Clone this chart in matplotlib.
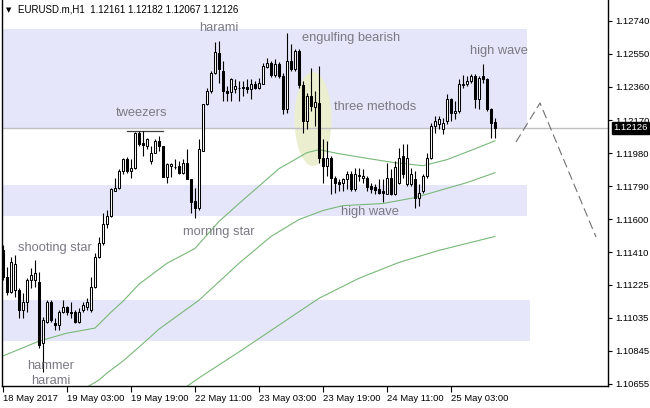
import matplotlib.pyplot as plt
from matplotlib.patches import Ellipse, Rectangle

plt.rcParams['font.family'] = ['Liberation Sans', 'DejaVu Sans']

symbol = 'EURUSD.m,H1'

# hourly OHLC, 18 May 2017 11:00 .. 25 May 2017 14:00
opens = [1.11422, 1.11268, 1.11182, 1.11193, 1.11193, 1.11079, 1.11125, 1.11250, 1.11250, 1.11239,
         1.10890, 1.11010, 1.11125, 1.11004, 1.10993, 1.11067, 1.11096, 1.11067, 1.11067, 1.11010,
         1.11079, 1.11096, 1.11079, 1.11210, 1.11382, 1.11462, 1.11576, 1.11622, 1.11765, 1.11782,
         1.11880, 1.11948, 1.11880, 1.11897, 1.12097, 1.12040, 1.12023, 1.11937, 1.11983, 1.12051,
         1.12023, 1.11845, 1.11908, 1.11902, 1.11908, 1.11868, 1.11925, 1.11834, 1.11708, 1.11668,
         1.11994, 1.12263, 1.12337, 1.12440, 1.12555, 1.12452, 1.12337, 1.12331, 1.12349, 1.12354,
         1.12354, 1.12360, 1.12349, 1.12377, 1.12354, 1.12377, 1.12474, 1.12497, 1.12429, 1.12492,
         1.12423, 1.12234, 1.12509, 1.12463, 1.12566, 1.12372, 1.12166, 1.12309, 1.12246, 1.12269,
         1.11954, 1.11908, 1.11954, 1.11840, 1.11817, 1.11811, 1.11834, 1.11862, 1.11777, 1.11851,
         1.11840, 1.11840, 1.11794, 1.11788, 1.11777, 1.11765, 1.11748, 1.11840, 1.11748, 1.11811,
         1.11965, 1.11805, 1.11805, 1.11834, 1.11725, 1.11765, 1.11851, 1.11954, 1.12137, 1.12148,
         1.12120, 1.12166, 1.12291, 1.12211, 1.12223, 1.12372, 1.12377, 1.12394, 1.12423, 1.12291,
         1.12423, 1.12406, 1.12234, 1.12161]
highs = [1.11451, 1.11325, 1.11382, 1.11393, 1.11205, 1.11176, 1.11262, 1.11319, 1.11365, 1.11296,
         1.11039, 1.11136, 1.11136, 1.11033, 1.11079, 1.11136, 1.11102, 1.11125, 1.11079, 1.11090,
         1.11125, 1.11147, 1.11268, 1.11405, 1.11496, 1.11639, 1.11651, 1.11782, 1.11840, 1.11891,
         1.11954, 1.11960, 1.11948, 1.12103, 1.12108, 1.12108, 1.12068, 1.12023, 1.12063, 1.12080,
         1.12023, 1.11925, 1.11925, 1.11948, 1.11937, 1.11948, 1.12005, 1.11834, 1.11782, 1.12063,
         1.12263, 1.12354, 1.12452, 1.12617, 1.12623, 1.12509, 1.12366, 1.12412, 1.12406, 1.12394,
         1.12394, 1.12406, 1.12406, 1.12394, 1.12412, 1.12497, 1.12526, 1.12509, 1.12520, 1.12503,
         1.12440, 1.12669, 1.12606, 1.12577, 1.12577, 1.12394, 1.12326, 1.12469, 1.12337, 1.12480,
         1.12063, 1.12051, 1.11965, 1.11851, 1.11834, 1.11840, 1.11880, 1.11880, 1.11897, 1.11897,
         1.11891, 1.11851, 1.11811, 1.11805, 1.11834, 1.11834, 1.11925, 1.11891, 1.11937, 1.12011,
         1.12034, 1.12034, 1.11897, 1.11880, 1.11805, 1.11862, 1.11983, 1.12154, 1.12194, 1.12194,
         1.12183, 1.12320, 1.12297, 1.12280, 1.12406, 1.12429, 1.12423, 1.12434, 1.12434, 1.12423,
         1.12492, 1.12412, 1.12240, 1.12182]
lows = [1.11250, 1.11165, 1.11176, 1.11153, 1.11033, 1.11033, 1.11067, 1.11205, 1.11210, 1.10861,
        1.10724, 1.11004, 1.11010, 1.10964, 1.10964, 1.11062, 1.11050, 1.11033, 1.11004, 1.11004,
        1.11067, 1.11079, 1.11067, 1.11205, 1.11376, 1.11451, 1.11548, 1.11611, 1.11765, 1.11777,
        1.11862, 1.11868, 1.11840, 1.11891, 1.12023, 1.11965, 1.12005, 1.11920, 1.11983, 1.11994,
        1.11845, 1.11811, 1.11845, 1.11891, 1.11862, 1.11862, 1.11834, 1.11639, 1.11605, 1.11651,
        1.11994, 1.12257, 1.12326, 1.12434, 1.12383, 1.12280, 1.12280, 1.12280, 1.12326, 1.12280,
        1.12309, 1.12326, 1.12291, 1.12349, 1.12349, 1.12377, 1.12469, 1.12417, 1.12417, 1.12412,
        1.12206, 1.12211, 1.12452, 1.12452, 1.12354, 1.12097, 1.12120, 1.12223, 1.12137, 1.11925,
        1.11811, 1.11851, 1.11748, 1.11754, 1.11765, 1.11765, 1.11777, 1.11765, 1.11765, 1.11822,
        1.11811, 1.11765, 1.11754, 1.11748, 1.11748, 1.11697, 1.11748, 1.11737, 1.11737, 1.11805,
        1.11840, 1.11794, 1.11794, 1.11668, 1.11679, 1.11754, 1.11840, 1.11948, 1.12097, 1.12120,
        1.12091, 1.12148, 1.12166, 1.12177, 1.12211, 1.12354, 1.12366, 1.12383, 1.12240, 1.12234,
        1.12383, 1.12223, 1.12068, 1.12067]
closes = [1.11268, 1.11182, 1.11353, 1.11342, 1.11079, 1.11125, 1.11250, 1.11279, 1.11290, 1.10879,
          1.11022, 1.11125, 1.11022, 1.10993, 1.11067, 1.11096, 1.11067, 1.11062, 1.11010, 1.11067,
          1.11107, 1.11125, 1.11210, 1.11382, 1.11462, 1.11576, 1.11622, 1.11777, 1.11782, 1.11880,
          1.11948, 1.11880, 1.11897, 1.12097, 1.12034, 1.12028, 1.12063, 1.11983, 1.12051, 1.12023,
          1.11845, 1.11920, 1.11920, 1.11900, 1.11868, 1.11925, 1.11834, 1.11697, 1.11668, 1.12005,
          1.12263, 1.12337, 1.12440, 1.12560, 1.12463, 1.12337, 1.12326, 1.12406, 1.12366, 1.12352,
          1.12360, 1.12349, 1.12377, 1.12354, 1.12383, 1.12480, 1.12497, 1.12429, 1.12492, 1.12423,
          1.12234, 1.12509, 1.12463, 1.12566, 1.12372, 1.12166, 1.12309, 1.12251, 1.12274, 1.11954,
          1.11908, 1.11954, 1.11840, 1.11811, 1.11805, 1.11834, 1.11862, 1.11777, 1.11862, 1.11853,
          1.11851, 1.11788, 1.11777, 1.11771, 1.11754, 1.11754, 1.11840, 1.11748, 1.11902, 1.11954,
          1.11862, 1.11954, 1.11862, 1.11725, 1.11754, 1.11851, 1.11954, 1.12137, 1.12166, 1.12177,
          1.12154, 1.12291, 1.12211, 1.12223, 1.12377, 1.12377, 1.12394, 1.12423, 1.12291, 1.12412,
          1.12406, 1.12234, 1.12154, 1.12126]

# moving averages at a few bars (bar index, price)
ma_fast_idx = [0, 9, 16, 23, 27, 30, 34, 41, 48, 54, 59, 69, 76, 79, 84, 90, 98, 105, 111, 118, 123]
ma_fast = [1.10816, 1.10901, 1.10947, 1.10976, 1.11067, 1.11130, 1.11228, 1.11348, 1.11433, 1.11588,
           1.11691, 1.11891, 1.11983, 1.12000, 1.11977, 1.11954, 1.11925, 1.11908, 1.11943, 1.12005,
           1.12051]
ma_mid_idx = [19, 24, 26, 30, 34, 39, 49, 59, 67, 74, 80, 85, 95, 103, 109, 116, 123]
ma_mid = [1.10610, 1.10678, 1.10718, 1.10787, 1.10867, 1.10970, 1.11136, 1.11348, 1.11502, 1.11599,
          1.11651, 1.11679, 1.11691, 1.11725, 1.11765, 1.11811, 1.11868]
ma_slow_idx = [44, 49, 59, 69, 79, 89, 99, 109, 116, 123]
ma_slow = [1.10610, 1.10690, 1.10839, 1.10993, 1.11147, 1.11262, 1.11353, 1.11422, 1.11462, 1.11502]

# support / resistance zones (low, high, last bar)
zone_lo = [1.12120, 1.11619, 1.10902]
zone_hi = [1.12693, 1.11797, 1.11137]
zone_end = [131, 131, 131.75]

price_ticks = [1.12740, 1.12550, 1.12360, 1.12170, 1.11980, 1.11790,
               1.11600, 1.11410, 1.11225, 1.11035, 1.10845, 1.10655]
time_ticks = [0, 16, 32, 48, 64, 80, 96, 112]
time_labels = ['18 May 2017', '19 May 03:00', '19 May 19:00', '22 May 11:00',
               '23 May 03:00', '23 May 19:00', '24 May 11:00', '25 May 03:00']

# pattern labels (text, bar, price)
patterns = [('harami', 54, 1.12698), ('engulfing bearish', 87, 1.12641),
            ('high wave', 124, 1.12566), ('tweezers', 34.75, 1.12211),
            ('three methods', 93, 1.12245), ('high wave', 91.75, 1.11642),
            ('morning star', 54, 1.11527), ('shooting star', 13, 1.11436),
            ('hammer', 12, 1.10758), ('harami', 12, 1.10672)]

# projected path drawn on the right
proj_idx = [128.25, 134.25, 148.25]
proj_price = [1.12044, 1.12268, 1.11499]

fig = plt.figure(figsize=(6.5, 4.08), dpi=100)
ax = fig.add_axes([2 / 650, 22 / 408, 606 / 650, 386 / 408])
ax.set_xlim(-0.25, 151.25)
ax.set_ylim(1.106435, 1.128592)

for lo, hi, end in zip(zone_lo, zone_hi, zone_end):
    ax.add_patch(Rectangle((-5, lo), end + 5, hi - lo, facecolor='#e6e6fa',
                           edgecolor='none', zorder=0))

ax.add_patch(Ellipse((77.5, 1.12176), 9.25, 0.0054, facecolor='#ebefcf',
                     edgecolor='none', zorder=1))

ax.axhline(closes[-1], color='#c0c0c0', lw=1, zorder=1.5)

# tweezers top line
ax.plot([31, 40], [1.12108, 1.12108], color='#404040', lw=0.9, zorder=2)

for xs, ys in [(ma_fast_idx, ma_fast), (ma_mid_idx, ma_mid), (ma_slow_idx, ma_slow)]:
    ax.plot(xs, ys, color='#78b878', lw=0.8, zorder=2)

ax.plot(proj_idx, proj_price, color='#707070', lw=0.8, linestyle=(0, (8, 4)), zorder=2)

# candles
idx = list(range(len(opens)))
ax.vlines(idx, lows, highs, color='black', lw=0.8, zorder=3)
for i in idx:
    o, c = opens[i], closes[i]
    fc = 'white' if c > o else 'black'
    ax.bar(i, abs(c - o), bottom=min(o, c), width=0.5, color=fc,
           edgecolor='black', linewidth=0.75, zorder=4)

for txt, x, y in patterns:
    ax.text(x, y, txt, fontsize=9.3, color='#7a7a84', ha='center', va='center', zorder=5)

# axes styling
ax.spines['top'].set_visible(False)
for s in ['left', 'bottom', 'right']:
    ax.spines[s].set_linewidth(1)
ax.yaxis.tick_right()
ax.set_yticks(price_ticks)
ax.set_yticklabels([f'{p:.5f}' for p in price_ticks])
ax.tick_params(axis='y', direction='out', length=3, width=0.8, pad=2, labelsize=6.8)
ax.set_xticks(time_ticks)
ax.set_xticklabels(time_labels, ha='left')
ax.tick_params(axis='x', direction='out', length=4, width=0.8, pad=2, labelsize=6.8)

ax.annotate(f'{closes[-1]:.5f}', xy=(1, closes[-1]), xycoords=('axes fraction', 'data'),
            xytext=(3.6, 0), textcoords='offset points', ha='left', va='center',
            fontsize=6.8, color='white', zorder=6,
            bbox=dict(boxstyle='square,pad=0.15', fc='black', ec='black'), annotation_clip=False)

title = f'{symbol}  {opens[-1]:.5f} {highs[-1]:.5f} {lows[-1]:.5f} {closes[-1]:.5f}'
ax.text(4 / 606, 1 - 10 / 386, '\u25bc', transform=ax.transAxes, fontsize=5,
        va='center', ha='left', family=['DejaVu Sans'])
ax.text(16 / 606, 1 - 10 / 386, title, transform=ax.transAxes, fontsize=7,
        va='center', ha='left')

fig.savefig('out.png', dpi=100)
